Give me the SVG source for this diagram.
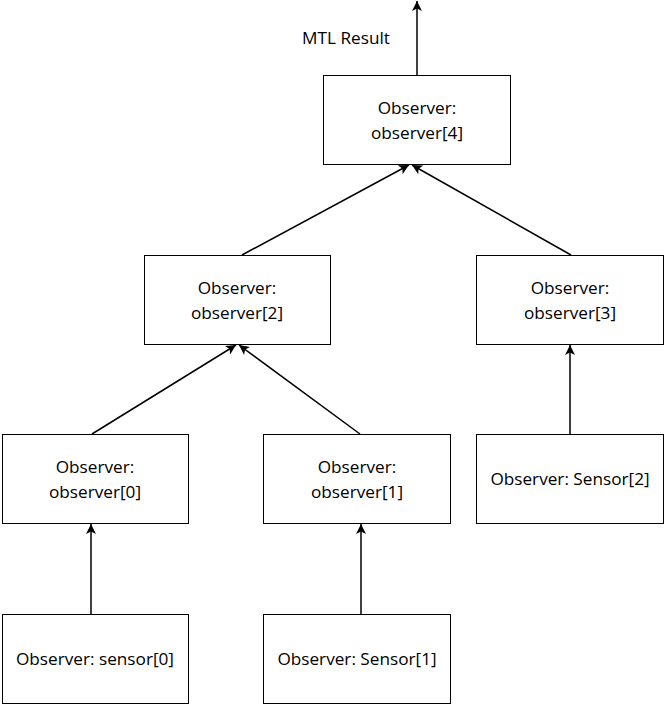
<svg xmlns="http://www.w3.org/2000/svg" width="665" height="705" viewBox="0 0 665 705">
<defs>
<marker id="ah" viewBox="0 0 10 10" refX="10" refY="5" markerWidth="11" markerHeight="10" markerUnits="userSpaceOnUse" orient="auto">
<path d="M0,0 L10,5 L0,10 L2.5,5 Z" fill="#000"/>
</marker>
</defs>
<style>
.box{fill:#fff;stroke:#000;stroke-width:1}
.t{font-family:"Open Sans","Noto Sans",sans-serif;font-size:17.2px;fill:#000;text-anchor:middle}
.c{stroke:#000;stroke-width:1.5;fill:none;marker-end:url(#ah)}
</style>
<rect width="665" height="705" fill="#fff"/>
<g id="connectors">
<line class="c" x1="417" y1="75" x2="417" y2="1"/>
<line class="c" x1="242" y1="255" x2="409" y2="165"/>
<line class="c" x1="571" y1="255" x2="412" y2="165"/>
<line class="c" x1="92" y1="434" x2="236" y2="345"/>
<line class="c" x1="360" y1="434" x2="239" y2="345"/>
<line class="c" x1="570" y1="434" x2="570" y2="345"/>
<line class="c" x1="91" y1="614" x2="91" y2="524"/>
<line class="c" x1="361" y1="614" x2="361" y2="524"/>
</g>
<g id="label-mtl"><text class="t" x="346" y="44">MTL Result</text></g>
<g id="observer4"><rect class="box" x="323.5" y="75.5" width="187" height="89"/><text class="t" x="417" y="114">Observer:</text><text class="t" x="417" y="139">observer[4]</text></g>
<g id="observer2"><rect class="box" x="144.5" y="255.5" width="186" height="89"/><text class="t" x="237" y="294">Observer:</text><text class="t" x="237" y="319">observer[2]</text></g>
<g id="observer3"><rect class="box" x="476.5" y="255.5" width="187" height="89"/><text class="t" x="570" y="294">Observer:</text><text class="t" x="570" y="319">observer[3]</text></g>
<g id="observer0"><rect class="box" x="2.5" y="434.5" width="186" height="89"/><text class="t" x="95" y="473">Observer:</text><text class="t" x="95" y="498">observer[0]</text></g>
<g id="observer1"><rect class="box" x="263.5" y="434.5" width="187" height="89"/><text class="t" x="357" y="473">Observer:</text><text class="t" x="357" y="498">observer[1]</text></g>
<g id="sensor2"><rect class="box" x="476.5" y="434.5" width="187" height="89"/><text class="t" x="570" y="485">Observer: Sensor[2]</text></g>
<g id="sensor0"><rect class="box" x="2.5" y="614.5" width="186" height="89"/><text class="t" x="95" y="665">Observer: sensor[0]</text></g>
<g id="sensor1"><rect class="box" x="263.5" y="614.5" width="187" height="89"/><text class="t" x="357" y="665">Observer: Sensor[1]</text></g>
</svg>
